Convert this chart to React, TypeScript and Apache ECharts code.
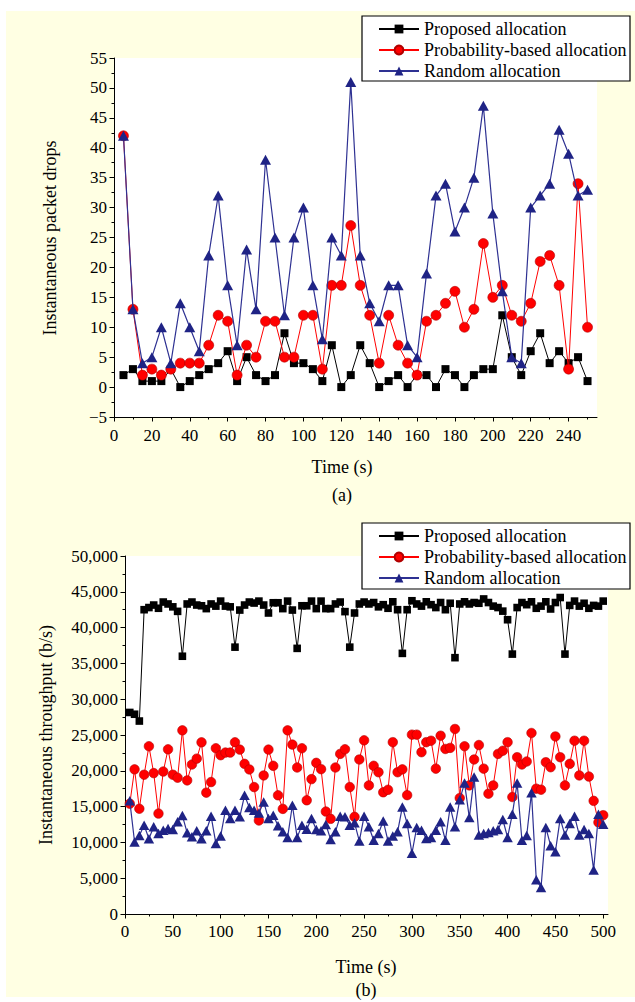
import React, { useEffect, useRef } from 'react';
import * as echarts from 'echarts';

const seriesNames = ['Proposed allocation', 'Probability-based allocation', 'Random allocation'];

// Panel (a): instantaneous packet drops
const timeA = [5, 10, 15, 20, 25, 30, 35, 40, 45, 50, 55, 60, 65, 70, 75, 80, 85, 90, 95, 100,
  105, 110, 115, 120, 125, 130, 135, 140, 145, 150, 155, 160, 165, 170, 175, 180, 185, 190, 195, 200,
  205, 210, 215, 220, 225, 230, 235, 240, 245, 250];
const proposedA = [2, 3, 1, 1, 1, 3, 0, 1, 2, 3, 4, 6, 1, 5, 2, 1, 2, 9, 4, 4,
  3, 1, 7, 0, 2, 7, 4, 0, 1, 2, 0, 2, 2, 0, 3, 2, 0, 2, 3, 3,
  12, 5, 2, 6, 9, 4, 6, 4, 5, 1];
const probabilityA = [42, 13, 2, 3, 2, 3, 4, 4, 4, 7, 12, 11, 2, 7, 5, 11, 11, 5, 5, 12,
  12, 3, 17, 17, 27, 17, 12, 4, 12, 7, 4, 2, 11, 12, 14, 16, 10, 13, 24, 15,
  17, 12, 11, 14, 21, 22, 17, 3, 34, 10];
const randomA = [42, 13, 4, 5, 10, 4, 14, 10, 6, 22, 32, 17, 7, 23, 13, 38, 25, 12, 25, 30,
  17, 8, 25, 22, 51, 22, 14, 11, 17, 17, 7, 5, 19, 32, 34, 26, 30, 35, 47, 29,
  16, 5, 4, 30, 32, 34, 43, 39, 32, 33];
const xTicksA = [0, 10, 20, 30, 40, 50, 60, 70, 80, 90, 100, 110, 120, 130, 140, 150, 160, 170, 180, 190, 200, 210, 220, 230, 240, 250];
const xLabelsA = [0, 20, 40, 60, 80, 100, 120, 140, 160, 180, 200, 220, 240];

// Panel (b): instantaneous throughput
const timeB = [5, 10, 15, 20, 25, 30, 35, 40, 45, 50, 55, 60, 65, 70, 75, 80, 85, 90, 95, 100,
  105, 110, 115, 120, 125, 130, 135, 140, 145, 150, 155, 160, 165, 170, 175, 180, 185, 190, 195, 200,
  205, 210, 215, 220, 225, 230, 235, 240, 245, 250, 255, 260, 265, 270, 275, 280, 285, 290, 295, 300,
  305, 310, 315, 320, 325, 330, 335, 340, 345, 350, 355, 360, 365, 370, 375, 380, 385, 390, 395, 400,
  405, 410, 415, 420, 425, 430, 435, 440, 445, 450, 455, 460, 465, 470, 475, 480, 485, 490, 495, 500];
const proposedB = [28150, 27900, 26950, 42500, 42800, 43150, 42700, 43570, 43300, 42900,
  42270, 36000, 43300, 43570, 43150, 43050, 42650, 43300, 43000, 43700,
  43000, 42900, 37270, 42450, 43150, 43570, 43430, 43700, 43150, 42040,
  43470, 43470, 42650, 43700, 42450, 37100, 43050, 43050, 43700, 42650,
  43700, 42650, 42650, 43300, 43570, 42230, 37270, 42040, 43300, 43570,
  43300, 43500, 42900, 43200, 42700, 43600, 42500, 36400, 42500, 43750,
  43300, 43000, 43600, 43200, 42800, 43500, 42500, 43400, 35800, 43300,
  43600, 43300, 43500, 43400, 44000, 43500, 43000, 42800, 42300, 41100,
  36300, 42800, 43500, 43200, 43600, 42700, 43000, 43600, 42600, 43500,
  44200, 36300, 43100, 43700, 43000, 43400, 42700, 43100, 43000, 43700];
const probabilityB = [15400, 20200, 14700, 19450, 23430, 19680, 14030, 19900, 23000, 19450,
  19030, 25650, 18660, 20880, 21700, 23980, 16950, 18430, 23150, 22180,
  22550, 22550, 23980, 22960, 20970, 20190, 17730, 13060, 19350, 22960,
  20700, 16580, 14680, 25650, 23660, 20460, 23150, 15880, 18840, 21110,
  20230, 14310, 13290, 20460, 22360, 23010, 17730, 13570, 21580, 24260,
  17960, 20700, 19800, 17000, 17350, 24000, 19800, 20200, 16600, 25050,
  25050, 22600, 24000, 24200, 20300, 24900, 23050, 23200, 25840, 16200,
  23430, 17960, 21580, 23600, 20300, 16800, 17960, 22360, 22800, 24000,
  16340, 21900, 20880, 21300, 25280, 17500, 17360, 21200, 20500, 24800,
  21900, 17960, 20970, 24200, 19350, 24200, 19200, 15800, 12800, 13800];
const randomB = [15800, 10050, 10970, 12400, 10500, 12180, 11250, 11710, 11950, 11800,
  12870, 13750, 11340, 10790, 11620, 10500, 11620, 13660, 9860, 10880,
  14490, 13330, 14490, 13570, 16580, 14860, 14490, 14120, 15650, 13330,
  13800, 12320, 11480, 10700, 15190, 10700, 12400, 11850, 13330, 11800,
  11620, 12500, 10420, 11480, 13660, 13570, 12400, 12730, 10190, 13660,
  12180, 10300, 11250, 13000, 10190, 10880, 11480, 14950, 12640, 8470,
  12080, 11710, 10550, 10700, 11710, 12870, 10300, 14950, 12180, 15970,
  18290, 13470, 19120, 11020, 11250, 11390, 11620, 11800, 13200, 10700,
  13940, 18290, 10300, 10970, 16950, 4770, 3700, 12080, 9540, 8700,
  13330, 11020, 12640, 13660, 11020, 11800, 11250, 6160, 13940, 12550];
const xTicksB = [0, 25, 50, 75, 100, 125, 150, 175, 200, 225, 250, 275, 300, 325, 350, 375, 400, 425, 450, 475, 500];
const xLabelsB = [0, 50, 100, 150, 200, 250, 300, 350, 400, 450, 500];

const FONT = '"Liberation Serif", "Times New Roman", serif';
const BLUE_LINE = '#2E3192';
const BLUE_MARK = '#1F2385';

function zip(xs: number[], ys: number[]) {
  return xs.map((x, i) => [x, ys[i]]);
}

function makeSeries(xIdx: number, yIdx: number, vals: number[][], big: boolean) {
  const s = big ? 1 : 0.95;
  return [
    {
      name: seriesNames[0], type: 'line', xAxisIndex: xIdx, yAxisIndex: yIdx,
      data: vals[0], symbol: 'rect', symbolSize: 8 * s, showAllSymbol: true,
      lineStyle: { color: '#000', width: 1 }, itemStyle: { color: '#000' }, z: 2,
    },
    {
      name: seriesNames[1], type: 'line', xAxisIndex: xIdx, yAxisIndex: yIdx,
      data: vals[1], symbol: 'circle', symbolSize: 10 * s, showAllSymbol: true,
      lineStyle: { color: '#FF0000', width: 1 },
      itemStyle: { color: '#FF0000', borderColor: '#B00000', borderWidth: 0.6 }, z: 3,
    },
    {
      name: seriesNames[2], type: 'line', xAxisIndex: xIdx, yAxisIndex: yIdx,
      data: vals[2], symbol: 'triangle', symbolSize: [11 * s, 10 * s], showAllSymbol: true,
      lineStyle: { color: BLUE_LINE, width: 1.2 }, itemStyle: { color: BLUE_MARK }, z: 4,
    },
  ];
}

const axisLineStyle = { color: '#000', width: 1 };
const labelStyle = { color: '#000', fontSize: 17, fontFamily: FONT };

function xAxes(gridIndex: number, max: number, ticks: number[], labels: number[], margin: number) {
  return [
    {
      type: 'value', gridIndex, min: 0, max, position: 'bottom',
      axisLine: { show: true, onZero: false, lineStyle: axisLineStyle },
      axisTick: { show: true, length: 2.5, customValues: ticks, lineStyle: axisLineStyle },
      axisLabel: { show: true, customValues: labels, margin, ...labelStyle },
      splitLine: { show: false },
    },
    {
      type: 'value', gridIndex, min: 0, max, position: 'bottom',
      axisLine: { show: false, onZero: false },
      axisTick: { show: true, length: 4.5, customValues: labels, lineStyle: axisLineStyle },
      axisLabel: { show: false },
      splitLine: { show: false },
    },
  ];
}

function legendAt(top: number) {
  return {
    orient: 'vertical', left: 373, top, itemWidth: 40, itemHeight: 11, itemGap: 3,
    data: seriesNames, z: 100, selectedMode: false,
    textStyle: { color: '#000', fontSize: 18, fontFamily: FONT },
  };
}

function txt(x: number, y: number, text: string, rotation = 0) {
  return {
    type: 'text', x, y, rotation, z: 50,
    style: { text, fill: '#000', fontSize: 18, fontFamily: FONT, align: 'center', verticalAlign: 'middle' },
  };
}

export default function App() {
  const ref = useRef<HTMLDivElement>(null);
  useEffect(() => {
    if (!ref.current) return;
    const chart = echarts.init(ref.current, null, { renderer: 'svg' });
    const fmtComma = (v: number) => String(v).replace(/\B(?=(\d{3})+(?!\d))/g, ',');
    chart.setOption({
      animation: false,
      backgroundColor: 'transparent',
      grid: [
        { left: 114, top: 58, width: 483, height: 359, show: true, backgroundColor: '#fff', borderWidth: 0 },
        { left: 125, top: 556, width: 483, height: 358, show: true, backgroundColor: '#fff', borderWidth: 0 },
      ],
      xAxis: [
        ...xAxes(0, 255, xTicksA, xLabelsA, 10),
        ...xAxes(1, 505, xTicksB, xLabelsB, 9),
      ],
      yAxis: [
        {
          type: 'value', gridIndex: 0, min: -5, max: 55, interval: 5,
          axisLine: { show: true, onZero: false, lineStyle: axisLineStyle },
          axisTick: { show: true, length: 4.5, lineStyle: axisLineStyle },
          minorTick: { show: true, splitNumber: 2, length: 2.5, lineStyle: axisLineStyle },
          axisLabel: { margin: 7, ...labelStyle, formatter: (v: number) => (v < 0 ? '\u2212' + (-v) : String(v)) },
          splitLine: { show: false },
        },
        {
          type: 'value', gridIndex: 1, min: 0, max: 50000, interval: 5000,
          axisLine: { show: true, onZero: false, lineStyle: axisLineStyle },
          axisTick: { show: true, length: 4.5, lineStyle: axisLineStyle },
          minorTick: { show: true, splitNumber: 2, length: 2.5, lineStyle: axisLineStyle },
          axisLabel: { margin: 7, ...labelStyle, formatter: fmtComma },
          splitLine: { show: false },
        },
      ],
      legend: [legendAt(15), legendAt(522)],
      graphic: [
        { type: 'rect', z: 40, shape: { x: 362, y: 16, width: 268, height: 65 }, style: { fill: '#fff', stroke: '#000', lineWidth: 1.2 } },
        { type: 'rect', z: 40, shape: { x: 362, y: 523, width: 268, height: 66 }, style: { fill: '#fff', stroke: '#000', lineWidth: 1.2 } },
        txt(50, 238, 'Instantaneous packet drops', Math.PI / 2),
        txt(342, 467, 'Time (s)'),
        txt(342, 495, '(a)'),
        txt(46, 735, 'Instantaneous throughput (b/s)', Math.PI / 2),
        txt(366, 967, 'Time (s)'),
        txt(366, 990, '(b)'),
      ],
      series: [
        ...makeSeries(0, 0, [zip(timeA, proposedA), zip(timeA, probabilityA), zip(timeA, randomA)], true),
        ...makeSeries(2, 1, [zip(timeB, proposedB), zip(timeB, probabilityB), zip(timeB, randomB)], false),
      ],
    });
    return () => chart.dispose();
  }, []);
  return (
    <div style={{ position: 'absolute', left: 0, top: 0, width: 635, height: 1002, background: '#fff' }}>
      <div style={{ position: 'absolute', left: 6, top: 11, width: 629, height: 986, background: '#FFFFE3' }} />
      <div ref={ref} style={{ position: 'absolute', left: 0, top: 0, width: 635, height: 1002 }} />
    </div>
  );
}
